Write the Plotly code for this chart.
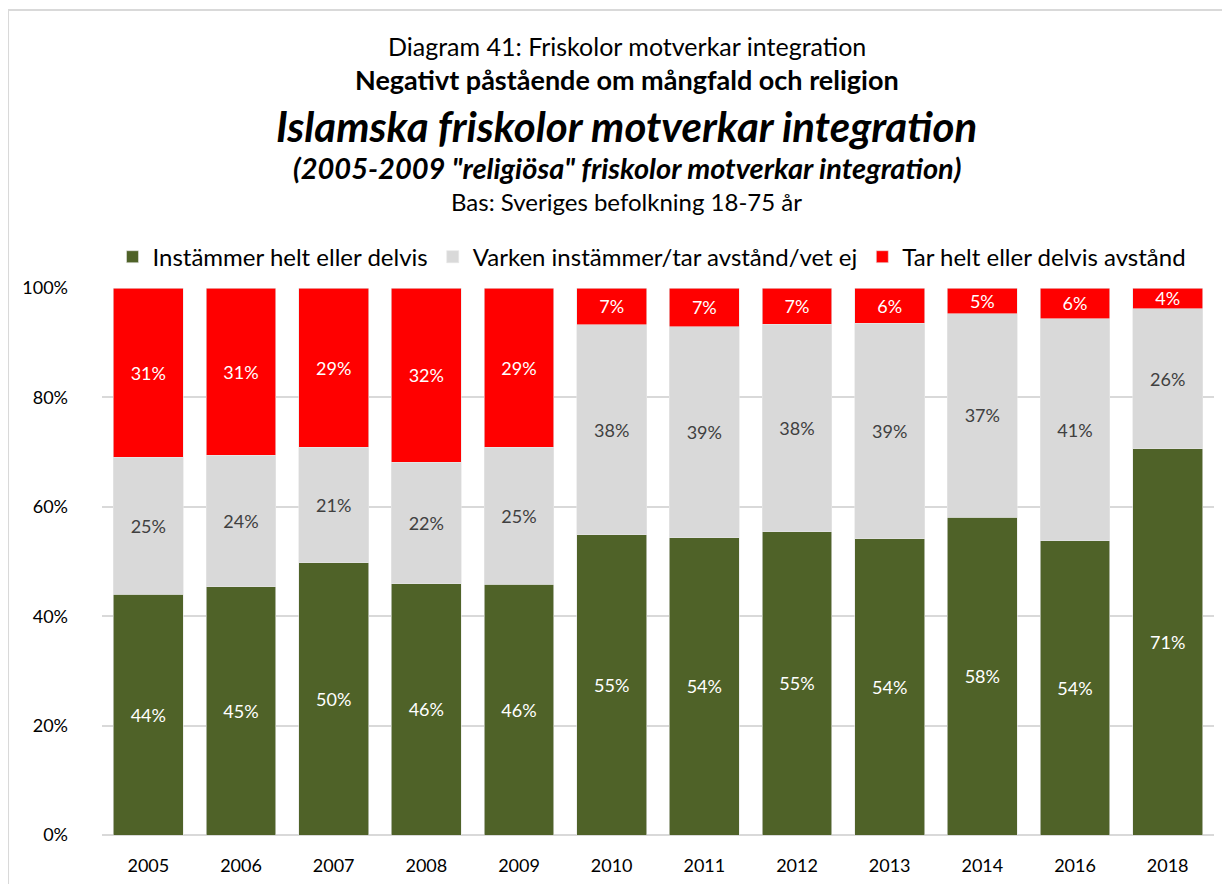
"""Diagram 41: Friskolor motverkar integration."""

import plotly.graph_objects as go

YEARS = ["2005", "2006", "2007", "2008", "2009", "2010", "2011", "2012", "2013", "2014", "2016", "2018"]
INSTAMMER = [44.0, 45.4, 49.8, 45.9, 45.8, 54.9, 54.3, 55.4, 54.2, 58.1, 53.8, 70.6]
VARKEN = [25.1, 24.0, 21.1, 22.2, 25.1, 38.4, 38.6, 38.0, 39.4, 37.2, 40.6, 25.6]
AVSTAND = [30.9, 30.6, 29.1, 31.9, 29.1, 6.7, 7.1, 6.6, 6.4, 4.7, 5.6, 3.8]

Y_TICKS = [0, 20, 40, 60, 80, 100]
Y_TICK_TEXT = ["0%", "20%", "40%", "60%", "80%", "100%"]

SERIES = [
    ("Instämmer helt eller delvis", INSTAMMER, "#4f6228", "white"),
    ("Varken instämmer/tar avstånd/vet ej", VARKEN, "#d9d9d9", "#404040"),
    ("Tar helt eller delvis avstånd", AVSTAND, "#ff0000", "white"),
]

FONT = "Lato"

fig = go.Figure()
for name, values, color, text_color in SERIES:
    fig.add_trace(go.Bar(
        x=YEARS, y=values, name=name,
        marker=dict(color=color, line=dict(color="#e6e6e6", width=0.6)),
        texttemplate="%{y:.0f}%", textposition="inside", insidetextanchor="middle",
        textfont=dict(color=text_color, size=18, family=FONT),
        hovertemplate="%{x}: %{y:.0f}%<extra>" + name + "</extra>",
    ))

# titelrader (ovanför diagrammet)
titles = [
    ("Diagram 41: Friskolor motverkar integration", 1.4426, 25),
    ("<b>Negativt påstående om mångfald och religion</b>", 1.3807, 27),
    ("<b><i>Islamska friskolor motverkar integration</i></b>", 1.2969, 42),
    ("<b><i>(2005-2009 \"religiösa\" friskolor motverkar integration)</i></b>", 1.2204, 29),
    ("Bas: Sveriges befolkning 18-75 år", 1.1585, 24),
]
for text, y, size in titles:
    fig.add_annotation(text=text, xref="paper", yref="paper", x=0.472, y=y,
                       xanchor="center", yanchor="middle", showarrow=False,
                       font=dict(size=size, color="black", family=FONT))

# ram runt hela diagrammet
fig.add_shape(type="rect", xref="paper", yref="paper", x0=-0.0845, x1=1.2, y0=-0.3, y1=1.508,
              line=dict(color="#d9d9d9", width=2), layer="below")

fig.update_layout(
    width=1214, height=876,
    barmode="stack", bargap=0.245,
    margin=dict(l=94, r=8, t=280, b=47),
    paper_bgcolor="white", plot_bgcolor="white",
    font=dict(family=FONT, size=18, color="black"),
    uniformtext=dict(minsize=18, mode="show"),
    legend=dict(orientation="h", x=0.4946, y=1.0565, xanchor="center", yanchor="middle",
                font=dict(size=24), itemwidth=30, traceorder="normal",
                bgcolor="rgba(0,0,0,0)"),
    xaxis=dict(showgrid=False, showline=False, ticks="", tickfont=dict(size=18),
               ticklabelstandoff=18),
    yaxis=dict(range=[0, 100], tickvals=Y_TICKS, ticktext=Y_TICK_TEXT,
               showgrid=True, gridcolor="#d9d9d9", gridwidth=1.5, zeroline=True,
               zerolinecolor="#d9d9d9", zerolinewidth=1.5, showline=False,
               tickfont=dict(size=18), ticklabelstandoff=33),
)

fig.write_html("out.html")
